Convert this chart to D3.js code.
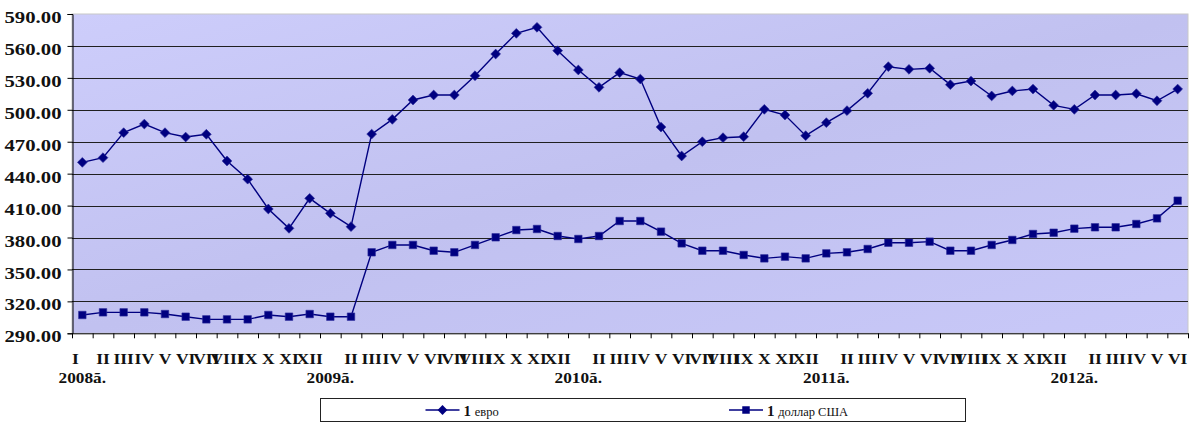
<!DOCTYPE html>
<html><head><meta charset="utf-8">
<script src="https://cdn.jsdelivr.net/npm/d3@7"></script>
<style>
html,body{margin:0;padding:0;background:#fff;}
svg{display:block;}
</style></head>
<body>
<svg id="chart" width="1195" height="426"></svg>
<script>
// ---- data ----
const monthNames = ["I","II","III","IV","V","VI","VII","VIII","IX","X","XI","XII"];
const years = ["2008ã.","2009ã.","2010ã.","2011ã.","2012ã."];
const monthsPerYear = [12,12,12,12,6];
const euro = [450.6, 455, 478.5, 486.6, 478.5, 474.4, 477, 451.9, 434.8, 406.8, 388.6, 416.8,
  402.7, 390.2, 477.2, 491, 509.2, 513.9, 513.9, 532, 552.4, 571.8, 577.5, 555.5,
  537.4, 521.1, 534.9, 528.9, 483.8, 456.6, 470, 473.8, 474.7, 500.4, 495.1, 475.7,
  487.9, 499.2, 515.5, 540.5, 538, 539, 523.6, 527, 513, 517.7, 519.5, 504.2,
  500.4, 513.9, 513.9, 515.1, 508.5, 519.5];
const dollar = [307.2, 309.7, 309.7, 309.7, 308.1, 305.6, 303.1, 303.1, 303.1, 307.2, 305.6, 308.1,
  305.6, 305.6, 366.1, 373, 373, 367.6, 366.1, 373, 380.2, 387, 388, 381.4,
  378.6, 381.4, 395.5, 395.5, 385.5, 374.5, 367.6, 367.6, 363.6, 360.4, 362, 360.4,
  365.1, 366.1, 369.2, 375.1, 375.1, 376.1, 367.6, 367.6, 373, 377.7, 383.3, 384.5,
  388.3, 389.6, 389.6, 392.7, 398, 414.6];
const yTicks = [290,320,350,380,410,440,470,500,530,560,590];
const seriesNames = ["евро","доллар США"];

// categories
const monthLabels = [], yearLabels = [];
years.forEach((y,yi)=>{
  for(let m=0;m<monthsPerYear[yi];m++){
    monthLabels.push(m===0 && yi>0 ? "" : monthNames[m]);
    yearLabels.push(m===0 ? y : "");
  }
});
const idx = d3.range(euro.length);

// ---- layout ----
const svg = d3.select("#chart");
const L=72, R=1188, T=14, B=333.3;
const x = d3.scaleBand().domain(idx).range([L,R]).padding(0);
const xb = d3.scaleLinear().domain([0,idx.length]).range([L,R]);
const y = d3.scaleLinear().domain([290,590]).range([B,T]);
const navy = "#000080";
const serif = "'Liberation Serif','Times New Roman',serif";

// background gradient
const defs = svg.append("defs");
const g1 = defs.append("linearGradient").attr("id","bg").attr("x1","0").attr("y1","0").attr("x2","1").attr("y2","1");
g1.append("stop").attr("offset","0").attr("stop-color","#cdcdfb");
g1.append("stop").attr("offset","0.5").attr("stop-color","#c1c1f0");
g1.append("stop").attr("offset","1").attr("stop-color","#c8c8f8");

svg.append("rect").attr("x",L).attr("y",T).attr("width",R-L).attr("height",B-T)
  .attr("fill","url(#bg)").attr("stroke","#c8c8c8").attr("stroke-width",1);

// gridlines
svg.append("g").selectAll("line").data(yTicks.filter(v=>v>290 && v<590)).join("line")
  .attr("x1",L).attr("x2",R).attr("y1",d=>Math.round(y(d))+0.5).attr("y2",d=>Math.round(y(d))+0.5)
  .attr("stroke","#202020").attr("stroke-width",1);

// y axis
const ya = svg.append("g").attr("transform",`translate(${L+0.5},0)`)
  .call(d3.axisLeft(y).tickValues(yTicks).tickFormat(d3.format(".2f")).tickSize(5).tickPadding(6));
ya.select(".domain").attr("stroke","#000");
ya.selectAll(".tick line").attr("stroke","#000");
ya.selectAll(".tick text").attr("font-family",serif).attr("font-weight","bold").attr("font-size","16.5px")
  .attr("fill","#111").attr("dy","0.52em").attr("textLength",57).attr("lengthAdjust","spacingAndGlyphs");

// x axis (boundary ticks)
const xa = svg.append("g").attr("transform",`translate(0,${B})`)
  .call(d3.axisBottom(xb).tickValues(d3.range(idx.length+1)).tickFormat("").tickSize(5).tickSizeOuter(0));
xa.select(".domain").attr("stroke","#000");
xa.selectAll(".tick line").attr("stroke","#000");

// month labels
const xl = svg.append("g").attr("transform",`translate(0,${B})`)
  .call(d3.axisBottom(x).tickSize(0).tickPadding(0).tickFormat(i=>monthLabels[i]));
xl.select(".domain").remove();
xl.selectAll(".tick text").attr("font-family",serif).attr("font-weight","bold").attr("font-size","15px")
  .attr("fill","#111").attr("y",31).attr("dy",0).attr("x",(d,i)=>i===0?-6:0)
  .attr("transform","scale(1.17,1)");

// year labels
const yl = svg.append("g").attr("transform",`translate(0,${B})`)
  .call(d3.axisBottom(x).tickSize(0).tickPadding(0).tickFormat(i=>yearLabels[i]));
yl.select(".domain").remove();
yl.selectAll(".tick text").attr("font-family",serif).attr("font-weight","bold").attr("font-size","15px")
  .attr("fill","#111").attr("y",50).attr("dy",0).attr("transform","scale(1.15,1)");

// lines
const line = d3.line().x(i=>x(i)+x.bandwidth()/2);
[euro,dollar].forEach(vals=>{
  svg.append("path").datum(idx)
    .attr("d", line.y(i=>y(vals[i])))
    .attr("fill","none").attr("stroke",navy).attr("stroke-width",1.4);
});
const diamond = d3.symbol().type(d3.symbolSquare).size(48);
const square = d3.symbol().type(d3.symbolSquare).size(56);
svg.append("g").selectAll("path").data(idx).join("path")
  .attr("d",diamond)
  .attr("transform",i=>`translate(${x(i)+x.bandwidth()/2},${y(euro[i])}) rotate(45)`)
  .attr("fill",navy).attr("stroke","#2a2a9a").attr("stroke-width",0.6);
svg.append("g").selectAll("path").data(idx).join("path")
  .attr("d",square)
  .attr("transform",i=>`translate(${x(i)+x.bandwidth()/2},${y(dollar[i])})`)
  .attr("fill",navy).attr("stroke","#2a2a9a").attr("stroke-width",0.6);

// legend
const lg = svg.append("g");
lg.append("rect").attr("x",320.5).attr("y",398.5).attr("width",645).attr("height",23)
  .attr("fill","#fff").attr("stroke","#222").attr("stroke-width",1);
const items = [{cx:442.5, sym:diamond, rot:45, name:seriesNames[0]},{cx:746, sym:square, rot:0, name:seriesNames[1]}];
items.forEach(it=>{
  lg.append("line").attr("x1",it.cx-17).attr("x2",it.cx+17).attr("y1",410).attr("y2",410)
    .attr("stroke",navy).attr("stroke-width",1.4);
  lg.append("path").attr("d",it.sym).attr("transform",`translate(${it.cx},410) rotate(${it.rot})`).attr("fill",navy);
  const t = lg.append("text").attr("x",it.cx+21).attr("y",415.5).attr("font-family",serif).attr("fill","#111");
  t.append("tspan").attr("font-weight","bold").attr("font-size","15px").text("1 ");
  t.append("tspan").attr("font-size","12.5px").text(it.name);
});
</script>
</body></html>
